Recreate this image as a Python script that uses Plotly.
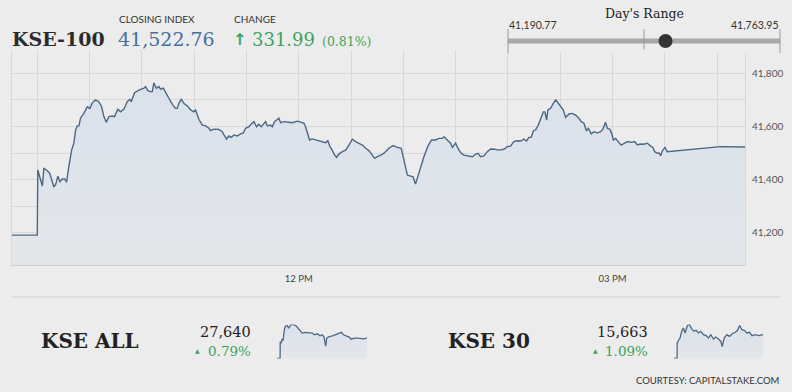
import plotly.graph_objects as go

# ---------------- data ----------------
# KSE-100 intraday: minutes after 09:30 open, index value
main_minutes = [
    -14.5, 0, 0.3, 2.9, 3.8, 5.3, 7.1, 8.0, 9.5, 10.5,
    11.8, 13.0, 14.3, 15.8, 16.8, 18.1, 19.7, 21.0, 22.0, 22.9,
    23.9, 24.8, 26.7, 28.7, 30.2, 31.6, 33.4, 35.3, 36.9, 38.2,
    39.6, 41.1, 43.0, 44.3, 46.2, 47.8, 49.7, 51.6, 53.1, 53.9,
    55.8, 58.3, 61.2, 62.1, 63.5, 65.0, 66.0, 66.9, 68.3, 69.8,
    70.7, 72.3, 73.6, 75.5, 77.5, 79.3, 80.3, 81.2, 82.6, 84.1,
    86.1, 88.0, 89.8, 90.8, 92.7, 94.7, 96.6, 98.5, 99.4, 101.3,
    104.2, 106.1, 107.1, 108.6, 109.9, 111.3, 112.8, 114.7, 116.6, 118.2,
    119.5, 121.4, 122.8, 124.3, 125.8, 127.1, 128.5, 130.0, 131.0, 132.0,
    133.8, 134.8, 136.1, 137.3, 138.6, 139.6, 141.5, 144.3, 146.3, 148.2,
    149.5, 151.1, 153.0, 153.9, 154.9, 156.2, 157.8, 159.7, 161.6, 163.5,
    165.4, 166.7, 167.9, 169.2, 170.6, 171.7, 173.0, 175.0, 176.9, 178.8,
    180.7, 182.6, 184.5, 186.5, 188.4, 190.2, 192.2, 193.5, 195.1, 197.9,
    199.8, 201.7, 204.2, 206.5, 208.8, 210.3, 212.3, 214.2, 215.5, 217.0,
    218.9, 221.8, 224.1, 226.2, 228.5, 230.4, 232.4, 233.3, 235.2, 237.1,
    238.1, 240.0, 241.3, 242.9, 244.7, 247.6, 249.6, 251.5, 252.8, 254.3,
    256.2, 258.2, 260.1, 262.4, 264.8, 267.7, 269.7, 271.5, 273.4, 275.4,
    277.3, 279.2, 280.7, 282.0, 283.4, 284.6, 285.9, 287.4, 288.7, 290.3,
    291.2, 292.2, 292.9, 294.5, 296.0, 297.4, 298.7, 300.2, 301.8, 303.1,
    305.0, 306.9, 308.8, 310.7, 312.1, 313.6, 315.0, 316.1, 317.8, 319.3,
    321.3, 323.2, 324.7, 326.0, 327.0, 328.5, 329.5, 330.5, 331.8, 333.7,
    335.0, 336.9, 338.8, 340.8, 342.7, 344.2, 346.1, 348.0, 350.0, 351.9,
    353.2, 354.2, 355.7, 356.6, 357.6, 358.6, 360.1, 361.4, 392, 406,
]
main_values = [
    41190.77, 41190.77, 41436, 41376, 41442, 41436, 41424, 41405, 41373, 41380,
    41413, 41392, 41402, 41402, 41390, 41449, 41511, 41537, 41587, 41602,
    41602, 41631, 41649, 41674, 41668, 41689, 41700, 41693, 41674, 41637,
    41616, 41637, 41639, 41637, 41665, 41655, 41665, 41693, 41702, 41693,
    41727, 41737, 41744, 41750, 41735, 41731, 41731, 41763.95, 41744, 41750,
    41740, 41744, 41727, 41706, 41683, 41668, 41668, 41687, 41702, 41687,
    41677, 41662, 41655, 41662, 41627, 41605, 41602, 41593, 41584, 41590,
    41589, 41580, 41568, 41553, 41564, 41559, 41568, 41564, 41572, 41576,
    41593, 41599, 41609, 41618, 41599, 41608, 41599, 41609, 41618, 41602,
    41605, 41599, 41618, 41624, 41631, 41614, 41618, 41616, 41614, 41618,
    41620, 41616, 41612, 41599, 41574, 41549, 41553, 41549, 41545, 41543,
    41539, 41546, 41524, 41511, 41492, 41484, 41496, 41505, 41511, 41530,
    41552, 41543, 41537, 41530, 41518, 41509, 41492, 41480, 41486, 41495,
    41505, 41518, 41528, 41521, 41518, 41474, 41417, 41413, 41411, 41383,
    41424, 41486, 41526, 41549, 41549, 41555, 41555, 41561, 41549, 41537,
    41521, 41537, 41518, 41501, 41492, 41490, 41486, 41496, 41499, 41486,
    41489, 41505, 41515, 41514, 41511, 41514, 41524, 41526, 41543, 41546,
    41545, 41552, 41545, 41559, 41559, 41584, 41587, 41605, 41631, 41655,
    41655, 41624, 41662, 41668, 41687, 41700, 41689, 41674, 41662, 41634,
    41647, 41649, 41643, 41631, 41618, 41612, 41584, 41593, 41572, 41580,
    41576, 41580, 41593, 41616, 41593, 41589, 41574, 41549, 41555, 41539,
    41530, 41537, 41543, 41540, 41543, 41530, 41534, 41533, 41537, 41526,
    41521, 41505, 41499, 41501, 41490, 41508, 41521, 41505, 41524, 41522.76,
]

# KSE ALL sparkline
all_minutes = [-14.5, 0, 0.5, 4.3, 9.0, 13.7, 20.0, 24.7, 32.6, 40.4,
               51.4, 64.0, 76.5, 87.5, 103.2, 118.9, 134.6, 150.2, 161.2, 173.8,
               186.3, 197.3, 205.2, 213.0, 217.7, 228.7, 244.4, 260.1, 275.8, 286.8,
               296.2, 307.1, 322.8, 330.7, 346.4, 362.1, 377.8, 393.4, 406]
all_values = [27423, 27423, 27600, 27582, 27626, 27611, 27727, 27763, 27770, 27745,
              27781, 27781, 27763, 27734, 27691, 27698, 27691, 27691, 27673, 27683,
              27662, 27673, 27648, 27553, 27637, 27654, 27662, 27673, 27691, 27698,
              27673, 27662, 27648, 27626, 27637, 27637, 27629, 27629, 27640]

# KSE 30 sparkline
k30_minutes = [-14.5, 0, 0.5, 2, 6.1, 14.0, 21.9, 29.8, 37.7, 48.7,
               58.2, 69.3, 80.4, 89.8, 100.9, 112.0, 124.6, 137.3, 148.3, 159.4,
               172.1, 183.1, 195.8, 206.8, 213.2, 222.7, 235.3, 248.0, 260.6, 274.8,
               285.9, 295.4, 306.4, 317.5, 330.2, 342.8, 353.9, 369.7, 385.5, 406]
k30_values = [15494, 15494, 15607, 15603, 15622, 15639, 15687, 15711, 15675, 15728,
              15735, 15704, 15687, 15694, 15675, 15687, 15663, 15656, 15639, 15663,
              15632, 15646, 15632, 15615, 15578, 15639, 15663, 15651, 15670, 15680,
              15694, 15728, 15699, 15694, 15675, 15680, 15656, 15663, 15656, 15663]

day_low, day_high, close = 41190.77, 41763.95, 41522.76
change, change_pct = 331.99, 0.81

x_tick_minutes = [0, 30, 60, 90, 120, 150, 180, 210, 240, 270, 300, 330, 360, 390]
x_tick_labels = ["", "", "", "", "", "12 PM", "", "", "", "", "", "03 PM", "", ""]
y_tick_values = [41100, 41200, 41300, 41400, 41500, 41600, 41700, 41800]
y_tick_labels = ["", "41,200", "", "41,400", "", "41,600", "", "41,800"]

# ---------------- styling ----------------
W, H = 792, 392
BG = "#ececec"
LINE = "#4b6886"
GREEN = "#3da35a"
BLUE = "#44719e"
GRID = "#d8d8d8"
SERIF = "DejaVu Serif"
SANS = "Lato"
FILL_SCALE = [[0, "#d9e1ea"], [1, "#e4e7ea"]]


def px(x):
    return x / W


def py(y):
    return 1 - y / H


fig = go.Figure()

fig.add_trace(go.Scatter(
    x=main_minutes, y=main_values, mode="lines",
    line=dict(color=LINE, width=1.4),
    fill="tozeroy",
    fillgradient=dict(type="vertical", colorscale=FILL_SCALE,
                      start=max(main_values), stop=41078.5),
    xaxis="x", yaxis="y", hoverinfo="skip", showlegend=False))

# Day's range widget
rng_pad = (day_high - day_low) * 0.01
fig.add_trace(go.Scatter(
    x=[day_low, day_high], y=[0.5, 0.5], mode="lines",
    line=dict(color="#a8a8a8", width=5),
    xaxis="x2", yaxis="y2", hoverinfo="skip", showlegend=False))
mid = (day_low + day_high) / 2
fig.add_trace(go.Scatter(
    x=[day_low, day_low, None, mid, mid, None, day_high, day_high],
    y=[0, 1, None, 0.15, 1, None, 0, 1], mode="lines",
    line=dict(color="#9a9a9a", width=1),
    xaxis="x2", yaxis="y2", hoverinfo="skip", showlegend=False))
fig.add_trace(go.Scatter(
    x=[close], y=[0.5], mode="markers",
    marker=dict(color="#333333", size=14),
    xaxis="x2", yaxis="y2", hoverinfo="skip", showlegend=False))

# sparklines
fig.add_trace(go.Scatter(
    x=all_minutes, y=all_values, mode="lines",
    line=dict(color=LINE, width=1.3), fill="tozeroy",
    fillgradient=dict(type="vertical", colorscale=FILL_SCALE,
                      start=max(all_values), stop=min(all_values)),
    xaxis="x3", yaxis="y3", hoverinfo="skip", showlegend=False))
fig.add_trace(go.Scatter(
    x=k30_minutes, y=k30_values, mode="lines",
    line=dict(color=LINE, width=1.3), fill="tozeroy",
    fillgradient=dict(type="vertical", colorscale=FILL_SCALE,
                      start=max(k30_values), stop=min(k30_values)),
    xaxis="x4", yaxis="y4", hoverinfo="skip", showlegend=False))

hidden = dict(visible=False, fixedrange=True)

fig.update_layout(
    width=W, height=H,
    margin=dict(l=0, r=0, t=0, b=0),
    paper_bgcolor=BG, plot_bgcolor=BG,
    showlegend=False,
    xaxis=dict(domain=[px(12), px(745)], range=[-14.5, 406],
               tickmode="array", tickvals=x_tick_minutes, ticktext=x_tick_labels,
               showgrid=True, gridcolor=GRID, gridwidth=1, zeroline=False,
               showline=True, linecolor="#cfcfcf", linewidth=1,
               ticks="outside", ticklen=5, tickcolor="rgba(0,0,0,0)",
               tickfont=dict(family=SANS, size=9.5, color="#444"),
               fixedrange=True),
    yaxis=dict(domain=[py(265), py(50)], range=[41078.5, 41887.7],
               side="right", tickmode="array", tickvals=y_tick_values,
               ticktext=y_tick_labels,
               showgrid=True, gridcolor=GRID, gridwidth=1, zeroline=False,
               showline=True, mirror=True, linecolor="#d8d8d8", linewidth=1,
               ticks="outside", ticklen=4, tickcolor="rgba(0,0,0,0)",
               tickfont=dict(family=SANS, size=10, color="#555"),
               fixedrange=True),
    xaxis2=dict(domain=[px(508 - 2.72), px(780 + 2.72)],
                range=[day_low - rng_pad, day_high + rng_pad], anchor="y2", **hidden),
    yaxis2=dict(domain=[py(53), py(29)], range=[0, 1], anchor="x2", **hidden),
    xaxis3=dict(domain=[px(277), px(367)], range=[-14.5, 406], anchor="y3", **hidden),
    yaxis3=dict(domain=[py(358.5), py(324.5)],
                range=[min(all_values), max(all_values)], anchor="x3", **hidden),
    xaxis4=dict(domain=[px(674), px(763)], range=[-14.5, 406], anchor="y4", **hidden),
    yaxis4=dict(domain=[py(358.5), py(324.5)],
                range=[min(k30_values), max(k30_values)], anchor="x4", **hidden),
)

fig.add_shape(type="line", xref="paper", yref="paper",
              x0=px(12), x1=px(780), y0=py(297), y1=py(297),
              line=dict(color="#cfcfcf", width=1))


def ann(text, x, y, size, color, family, xanchor="left"):
    fig.add_annotation(text=text, x=px(x), y=py(y), xref="paper", yref="paper",
                       xanchor=xanchor, yanchor="middle", showarrow=False,
                       font=dict(family=family, size=size, color=color))


ann("<b>KSE-100</b>", 10, 39, 19, "#2b2b2b", SERIF)
ann("CLOSING INDEX", 117, 18.5, 10, "#333", SANS)
ann(f"{close:,.2f}", 116, 39, 19, BLUE, SERIF)
ann("CHANGE", 232, 18.5, 10, "#333", SANS)
ann("<b>↑</b>", 231, 39, 16, GREEN, "DejaVu Sans")
ann(f"{change:.2f}", 250, 39, 18, GREEN, SERIF)
ann(f"({change_pct:.2f}%)", 320, 41.5, 12.5, GREEN, SERIF)

ann("Day's Range", 644, 13.5, 12.5, "#222", SERIF, "center")
ann(f"{day_low:,.2f}", 507, 25.5, 10.5, "#333", SANS)
ann(f"{day_high:,.2f}", 781, 25.5, 10.5, "#333", SANS, "right")

ann("<b>KSE ALL</b>", 39, 341, 20, "#222", SERIF)
ann(f"{all_values[-1]:,}", 253, 331.5, 14.5, "#222", SERIF, "right")
ann("▲", 193, 350, 6, GREEN, "DejaVu Sans")
ann("0.79%", 253, 351, 13.5, GREEN, SERIF, "right")

ann("<b>KSE 30</b>", 446, 341, 20, "#222", SERIF)
ann(f"{k30_values[-1]:,}", 650, 331.5, 14.5, "#222", SERIF, "right")
ann("▲", 591, 350, 6, GREEN, "DejaVu Sans")
ann("1.09%", 650, 351, 13.5, GREEN, SERIF, "right")

ann("COURTESY: CAPITALSTAKE.COM", 781, 380, 9.5, "#333", SANS, "right")

fig.write_html("out.html", config={"displayModeBar": False},
               post_script="document.body.style.margin='0px';")
